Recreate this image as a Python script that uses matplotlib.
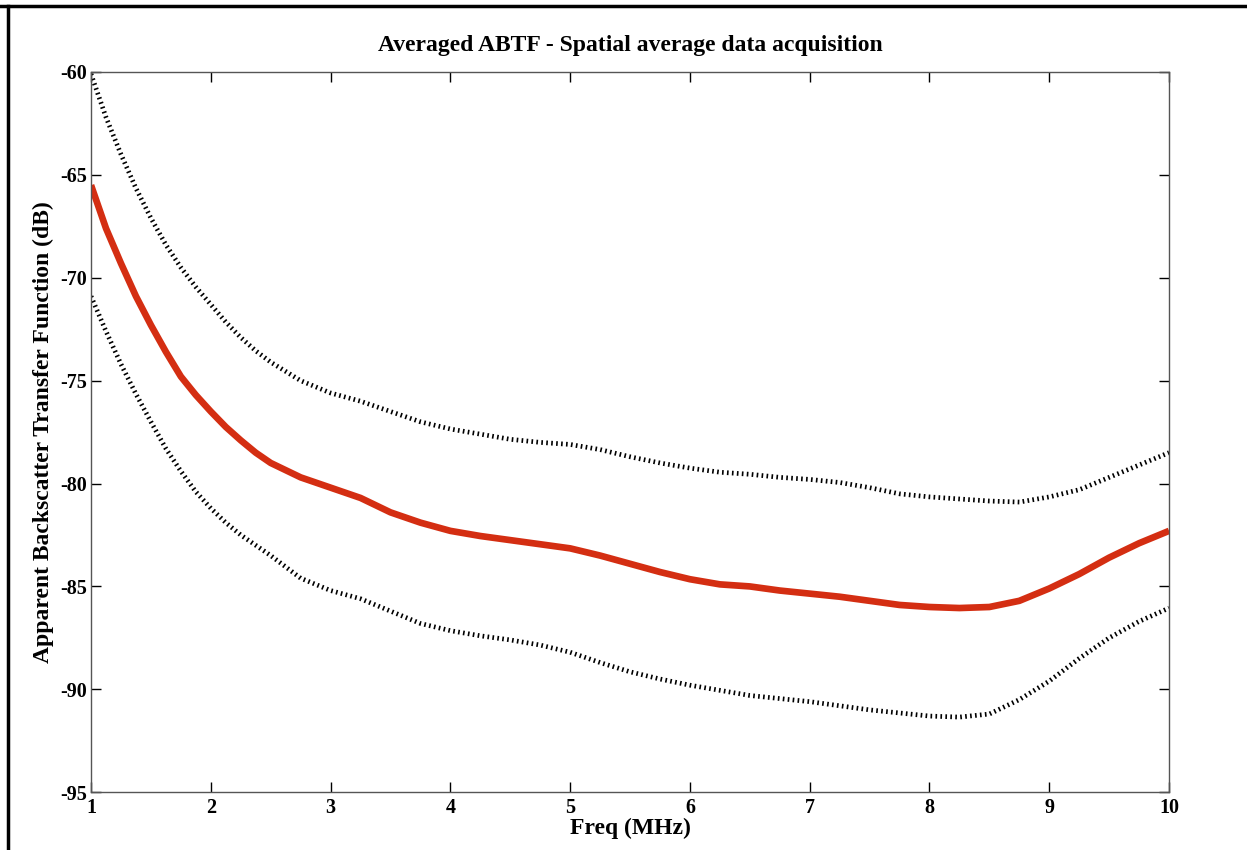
import numpy as np
import matplotlib
matplotlib.use("Agg")
import matplotlib.pyplot as plt
from matplotlib.lines import Line2D

# Frequency grid (MHz): finer steps where the curves fall steeply
freq = [1.0, 1.125, 1.25, 1.375, 1.5, 1.625, 1.75, 1.875, 2.0, 2.125, 2.25,
        2.375, 2.5, 2.75, 3.0, 3.25, 3.5, 3.75, 4.0, 4.25, 4.5, 4.75, 5.0,
        5.25, 5.5, 5.75, 6.0, 6.25, 6.5, 6.75, 7.0, 7.25, 7.5, 7.75, 8.0,
        8.25, 8.5, 8.75, 9.0, 9.25, 9.5, 9.75, 10.0]

# Averaged apparent backscatter transfer function (dB)
abtf_mean = [-65.5, -67.6, -69.3, -70.9, -72.3, -73.6, -74.8, -75.7, -76.5,
             -77.25, -77.9, -78.5, -79.0, -79.7, -80.2, -80.7, -81.4, -81.9,
             -82.3, -82.55, -82.75, -82.95, -83.15, -83.5, -83.9, -84.3,
             -84.65, -84.9, -85.0, -85.2, -85.35, -85.5, -85.7, -85.9, -86.0,
             -86.05, -86.0, -85.7, -85.1, -84.4, -83.6, -82.9, -82.3]

# Upper bound (mean + std)
abtf_upper = [-60.1, -62.2, -64.0, -65.65, -67.1, -68.4, -69.5, -70.45, -71.3,
              -72.15, -72.9, -73.55, -74.1, -75.0, -75.6, -76.0, -76.5, -77.0,
              -77.35, -77.6, -77.85, -78.0, -78.1, -78.35, -78.7, -79.0,
              -79.25, -79.45, -79.55, -79.7, -79.8, -79.95, -80.2, -80.5,
              -80.65, -80.75, -80.85, -80.9, -80.65, -80.3, -79.7, -79.1,
              -78.5]

# Lower bound (mean - std)
abtf_lower = [-70.9, -72.6, -74.2, -75.65, -77.0, -78.3, -79.4, -80.4, -81.2,
              -81.9, -82.5, -83.0, -83.5, -84.6, -85.2, -85.6, -86.2, -86.8,
              -87.15, -87.4, -87.6, -87.85, -88.2, -88.7, -89.15, -89.5,
              -89.8, -90.05, -90.3, -90.45, -90.6, -90.8, -91.0, -91.15,
              -91.3, -91.35, -91.2, -90.5, -89.6, -88.5, -87.5, -86.7, -86.05]

x_ticks = [1, 2, 3, 4, 5, 6, 7, 8, 9, 10]
y_ticks = [-95, -90, -85, -80, -75, -70, -65, -60]

plt.rcParams['font.family'] = ['Liberation Serif', 'DejaVu Serif']
plt.rcParams['font.weight'] = 'bold'

fig = plt.figure(figsize=(12.47, 8.5), dpi=100)
ax = fig.add_axes([0.073, 0.068, 0.8645, 0.8473])

dots = (0, (0.35, 0.7))
ax.plot(freq, abtf_upper, color='black', lw=3.4, linestyle=dots,
        dash_capstyle='butt')
ax.plot(freq, abtf_lower, color='black', lw=3.4, linestyle=dots,
        dash_capstyle='butt')
ax.plot(freq, abtf_mean, color='#d42e12', lw=4.8, solid_capstyle='butt',
        solid_joinstyle='round')

ax.set_xlim(1, 10)
ax.set_ylim(-95, -60)
ax.set_xticks(x_ticks)
ax.set_yticks(y_ticks)
ax.set_xticklabels([str(t) for t in x_ticks], fontsize=14.5, fontweight='bold')
ax.set_yticklabels([str(t) for t in y_ticks], fontsize=14.5, fontweight='bold')
ax.tick_params(direction='in', length=7, width=1, top=True, right=True,
               color='black')
ax.tick_params(axis='x', pad=4)
ax.tick_params(axis='y', pad=3)
for sp in ax.spines.values():
    sp.set_color('#555555')
    sp.set_linewidth(1.0)

ax.set_title('Averaged ABTF - Spatial average data acquisition',
             fontsize=17, fontweight='bold', pad=15)
ax.set_xlabel('Freq (MHz)', fontsize=17, fontweight='bold', labelpad=0)
ax.set_ylabel('Apparent Backscatter Transfer Function (dB)', fontsize=17,
              fontweight='bold', labelpad=4)

# Frame along the top and left edges of the figure
fig.add_artist(Line2D([0.0065, 0.0065], [0.0, 0.993], transform=fig.transFigure,
                      color='black', lw=2.5))
fig.add_artist(Line2D([0.0, 1.0], [0.993, 0.993], transform=fig.transFigure,
                      color='black', lw=2.5))

fig.savefig('out.png', dpi=100)
